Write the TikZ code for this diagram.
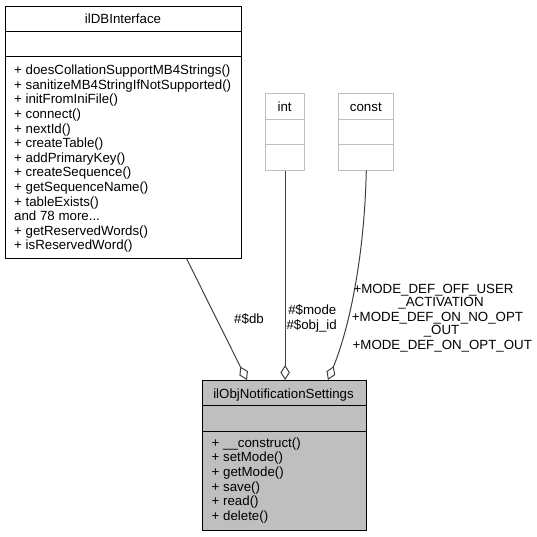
\documentclass[tikz,border=0pt]{standalone}
\usepackage{fontspec}
\setmainfont{Liberation Sans}
\usetikzlibrary{arrows.meta,calc}
\definecolor{edgegrey}{HTML}{404040}
\definecolor{fillgrey}{HTML}{BFBFBF}
\definecolor{lightborder}{HTML}{BFBFBF}
\newcommand\mythreedots{...}
\begin{document}
\begin{tikzpicture}[x=1pt,y=-1pt,
  font=\fontsize{13.3}{15}\selectfont,
  classbox/.style={draw=black, line width=1pt, anchor=north west, inner sep=0pt},
  ghostbox/.style={draw=lightborder, line width=1pt, anchor=north west, inner sep=0pt},
  sepline/.style={draw=black, line width=1pt},
  ghostsep/.style={draw=lightborder, line width=1pt},
  member/.style={anchor=base west, inner sep=0pt},
  titletext/.style={anchor=base, inner sep=0pt},
  elabel/.style={anchor=base, inner sep=0pt},
  assoc/.style={draw=edgegrey, line width=1pt,
    -{Diamond[open, length=15pt, width=9.5pt, line width=1pt]}}]
\useasboundingbox (0,0) rectangle (537,536);

% ilDBInterface
\node[classbox, minimum width=236pt, minimum height=252pt] (db) at (5,5.5) {};
\draw[sepline] ($(db.north west)+(0,25.5)$) -- ($(db.north east)+(0,25.5)$);
\draw[sepline] ($(db.north west)+(0,50.5)$) -- ($(db.north east)+(0,50.5)$);
\node[titletext] (dbtitle) at (123,23) {ilDBInterface};
\foreach \t [count=\i] in {+ doesCollationSupportMB4Strings(),
  + sanitizeMB4StringIfNotSupported(), + initFromIniFile(), + connect(),
  + nextId(), + createTable(), + addPrimaryKey(), + createSequence(),
  + getSequenceName(), + tableExists(), {and 78 more\mythreedots}, + getReservedWords(),
  + isReservedWord()}
  \node[member] (dbm\i) at (14, {74.8+14.58*(\i-1)}) {\t};

% int
\node[ghostbox, minimum width=39.3pt, minimum height=76.2pt] (int) at (265,93.3) {};
\draw[ghostsep] ($(int.north west)+(0,26)$) -- ($(int.north east)+(0,26)$);
\draw[ghostsep] ($(int.north west)+(0,51.5)$) -- ($(int.north east)+(0,51.5)$);
\node[titletext] (inttitle) at (284.6,111) {int};

% const
\node[ghostbox, minimum width=55pt, minimum height=76.2pt] (const) at (338.3,93.3) {};
\draw[ghostsep] ($(const.north west)+(0,26)$) -- ($(const.north east)+(0,26)$);
\draw[ghostsep] ($(const.north west)+(0,51.5)$) -- ($(const.north east)+(0,51.5)$);
\node[titletext] (consttitle) at (365.8,111) {const};

% ilObjNotificationSettings
\node[classbox, fill=fillgrey, minimum width=164pt, minimum height=150pt] (obj) at (202,380) {};
\draw[sepline] ($(obj.north west)+(0,25.7)$) -- ($(obj.north east)+(0,25.7)$);
\draw[sepline] ($(obj.north west)+(0,51)$) -- ($(obj.north east)+(0,51)$);
\node[titletext] (objtitle) at (283.5,398.1) {ilObjNotificationSettings};
\foreach \t [count=\i] in {+ \_\_construct(), + setMode(), + getMode(),
  + save(), + read(), + delete()}
  \node[member] (objm\i) at (211.5, {447+14.7*(\i-1)}) {\t};

% connectors
\draw[assoc] ($(db.south west)+(181.5,0)$) -- ($(obj.north west)+(45,0)$);
\draw[assoc] (int.south) -- (int.south |- obj.north);
\draw[assoc] (const.south) .. controls ($(const.south)+(-2,90)$) and ($(const.south)+(-18,160)$) .. ($(obj.north west)+(126,0)$);

% connector labels
\node[elabel] (lbldb) at (249,323.8) {\#\$db};
\node[elabel] (lblmode) at (312.3,314.8) {\#\$mode};
\node[elabel] (lblobjid) at (311.7,329) {\#\$obj\_id};
\node[elabel] (lblc1) at (433.5,293) {+MODE\_DEF\_OFF\_USER};
\node[elabel] (lblc2) at (441,306.5) {\_ACTIVATION};
\node[elabel] (lblc3) at (437.5,321.3) {+MODE\_DEF\_ON\_NO\_OPT};
\node[elabel] (lblc4) at (441.5,334.8) {\_OUT};
\node[elabel] (lblc5) at (442.3,349.6) {+MODE\_DEF\_ON\_OPT\_OUT};
\end{tikzpicture}
\end{document}
